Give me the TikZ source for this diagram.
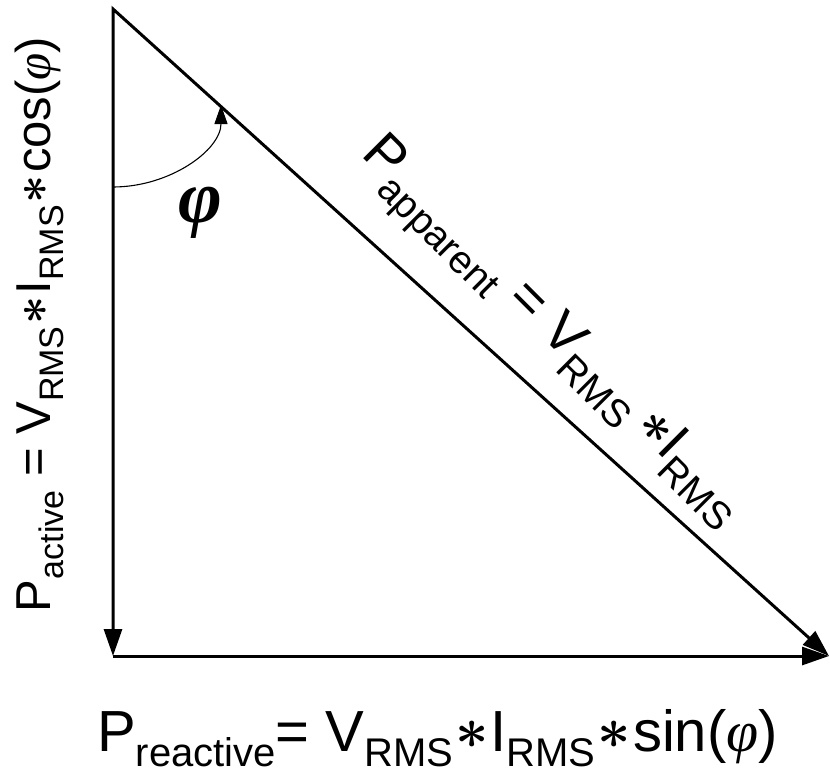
\documentclass[tikz,border=0pt]{standalone}
\usepackage{fontspec}
\usepackage{graphicx}
\usepackage{bm}
\setmainfont{Liberation Sans}
\newfontfamily\grk{Liberation Serif}
\usetikzlibrary{arrows.meta}
\newcommand{\mysub}[3]{\raisebox{-#2}{\fontsize{#1}{#1}\selectfont #3}}
\newcommand{\myast}[1]{\raisebox{0.05em}{\scalebox{#1}{\normalsize$\bm{\ast}$}}}
\newcommand{\myphi}{{\grk\itshape φ}}
\tikzset{
  side/.style={line width=3pt, line join=miter},
  angarrow/.style={line width=1.1pt, -{Triangle[length=19pt,width=13pt]}},
  lbl/.style={inner sep=0pt, outer sep=0pt}
}
\begin{document}
\begin{tikzpicture}[x=1pt,y=-1pt]
\useasboundingbox (0,0) rectangle (830,769);
\coordinate (O) at (113,9);
\coordinate (B) at (113,656);
\coordinate (C) at (829,656);
\coordinate (A1) at (113,187);
\coordinate (A2) at (221,105);
% vertical and diagonal (one path, mitered top)
\draw[side, {Triangle[length=27pt,width=18pt]}-{Triangle[length=27pt,width=18pt]}] (B) -- (O) -- (C);
% horizontal
\draw[side, -{Triangle[length=27pt,width=18pt]}] (B) -- (C);
% angle arrow
\draw[angarrow] (A1) .. controls (170,187) and (221,150) .. (A2);
% phi
\node[lbl] (phi) at (200,213) {\fontsize{75}{75}\selectfont\grk\bfseries\itshape φ};
% bottom label
\node[lbl, anchor=base west] (reac) at (97,751) {\fontsize{58}{58}\selectfont P\mysub{40pt}{15pt}{reactive}= V\mysub{40pt}{15pt}{RMS}\hspace{2pt}\myast{5.8}\hspace{2pt}I\mysub{40pt}{15pt}{RMS}\hspace{2pt}\myast{5.8}\hspace{2pt}sin(\myphi)};
% left label
\node[lbl, anchor=base west, rotate=90] (act) at (50,612) {\fontsize{49}{49}\selectfont P\mysub{34pt}{13pt}{active} = V\mysub{34pt}{13pt}{RMS}\hspace{2pt}\myast{4.9}\hspace{2pt}I\mysub{34pt}{13pt}{RMS}\hspace{2pt}\myast{4.9}\hspace{2pt}cos(\myphi)};
% diagonal label
\node[lbl, anchor=base west, rotate=-45] (app) at (360,155) {\fontsize{55}{55}\selectfont P\mysub{39pt}{15pt}{apparent} = V\mysub{39pt}{15pt}{RMS}\hspace{10pt}\myast{5.5}I\mysub{39pt}{15pt}{RMS}};
\end{tikzpicture}
\end{document}
